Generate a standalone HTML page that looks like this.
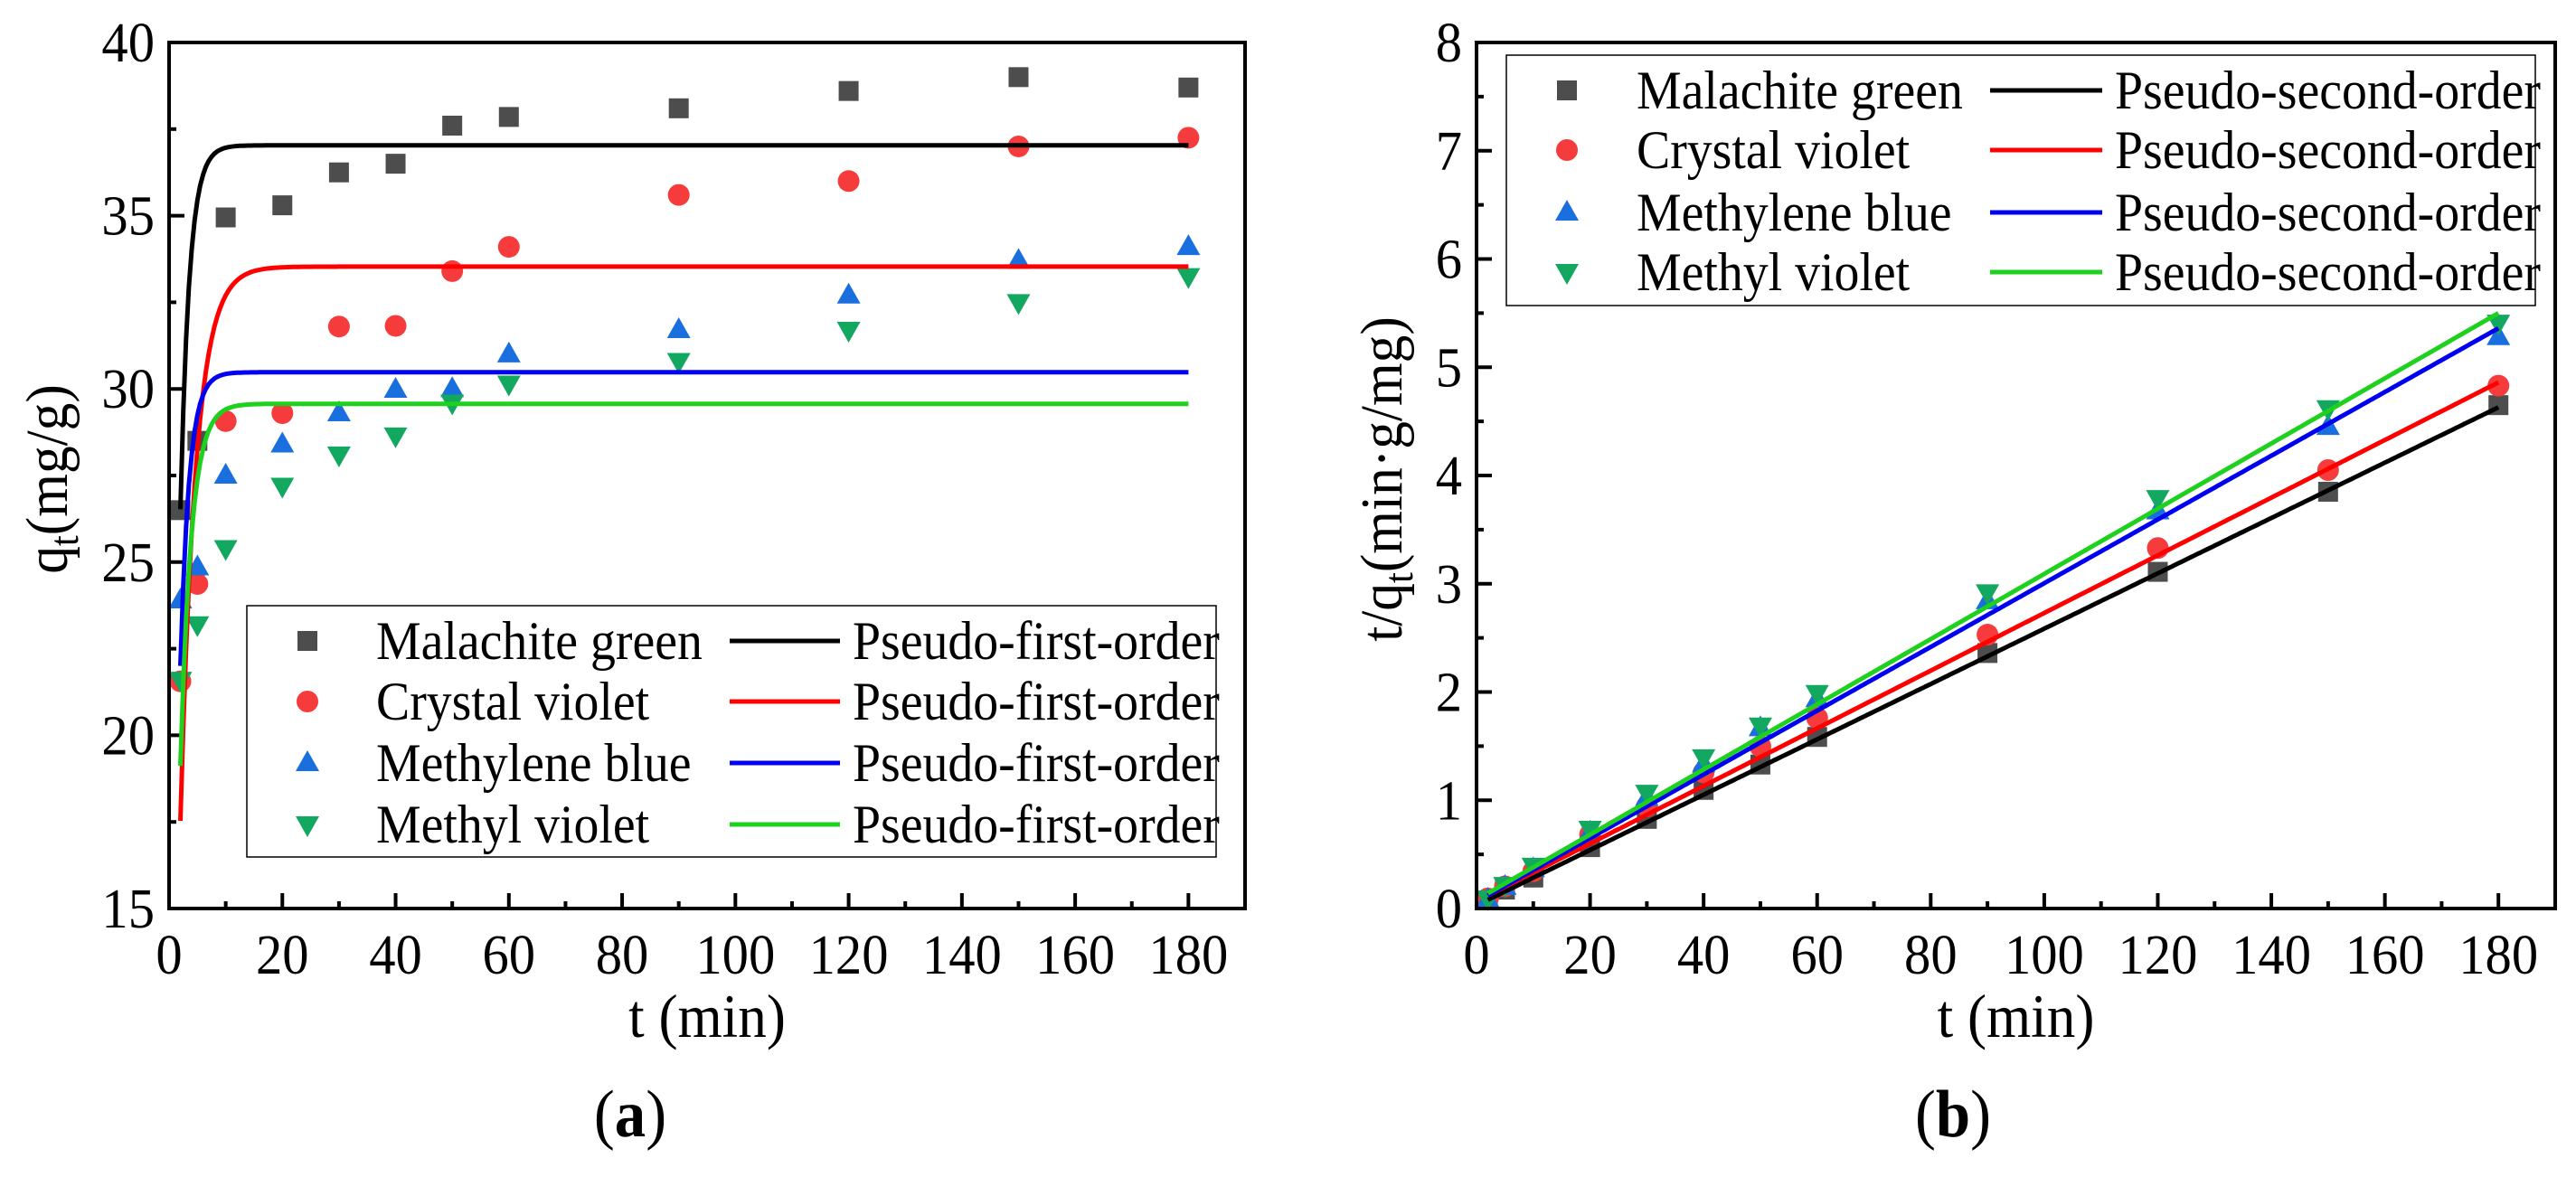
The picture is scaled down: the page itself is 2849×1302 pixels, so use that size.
<!DOCTYPE html>
<html><head><meta charset="utf-8"><style>
html,body{margin:0;padding:0;background:#fff;}
svg{display:block;font-family:"Liberation Serif","Times New Roman",serif;}
</style></head><body>
<svg id="fig" width="2849" height="1302" viewBox="0 0 2849 1302" xmlns="http://www.w3.org/2000/svg"></svg>
<script>
const times = [2,5,10,20,30,40,50,60,90,120,150,180];
const seriesNames = ["Malachite green","Crystal violet","Methylene blue","Methyl violet"];
const qMG = [26.5,28.5,34.95,35.3,36.25,36.5,37.6,37.85,38.1,38.6,39.0,38.7];
const qCV = [21.56,24.37,29.07,29.3,31.8,31.82,33.4,34.1,35.6,36.0,37.0,37.25];
const qMB = [23.9,24.85,27.5,28.4,29.3,29.98,30.0,31.0,31.7,32.7,33.7,34.1];
const qMV = [21.6,23.2,25.4,27.2,28.1,28.65,29.6,30.15,30.8,31.7,32.5,33.25];
const pfoQe = [37.03,33.53,30.48,29.57];
const pfoK = [0.63,0.37,0.64,0.52];
const tqMG = [0.075,0.175,0.286,0.567,0.828,1.096,1.33,1.585,2.36,3.11,3.85,4.65];
const tqCV = [0.093,0.205,0.344,0.683,0.943,1.257,1.497,1.76,2.53,3.33,4.05,4.83];
const tqMB = [0.084,0.201,0.364,0.704,1.024,1.334,1.667,1.935,2.84,3.67,4.45,5.28];
const tqMV = [0.093,0.216,0.394,0.735,1.068,1.396,1.689,1.99,2.92,3.79,4.62,5.41];
const psoSlope = [0.02556,0.02663,0.02944,0.03011];
const psoIntercept = [0.029,0.067,0.061,0.08];
const xTicks = [0,20,40,60,80,100,120,140,160,180];
const yTicksA = [15,20,25,30,35,40];
const yTicksB = [0,1,2,3,4,5,6,7,8];

const NS="http://www.w3.org/2000/svg";
const svg=document.getElementById('fig');
const markerColors=["#4d4d4d","#f53b3b","#1a6fdf","#12a860"];
const lineColors=["#000000","#ff0000","#0000f0","#1ed11e"];
const shapes=["square","circle","up","down"];
const SX=0.93;
function mk(tag,attrs,parent){const e=document.createElementNS(NS,tag);for(const k in attrs)e.setAttribute(k,attrs[k]);(parent||svg).appendChild(e);return e;}
function txt(parent,x,y,size,anchor,rot){
  const tr=`translate(${x},${y})`+(rot?` rotate(${rot})`:'')+` scale(${SX},1)`;
  return mk('text',{x:0,y:0,'font-size':size,'text-anchor':anchor,transform:tr},parent);
}

function marker(g,shape,cx,cy,color){
  let e;
  if(shape==="square"){e=mk('rect',{x:cx-11,y:cy-11,width:22,height:22,fill:color},g);}
  else if(shape==="circle"){e=mk('circle',{cx:cx,cy:cy,r:12,fill:color},g);}
  else if(shape==="up"){e=mk('polygon',{points:`${cx},${cy-14} ${cx+13},${cy+9} ${cx-13},${cy+9}`,fill:color},g);}
  else {e=mk('polygon',{points:`${cx},${cy+14} ${cx+13},${cy-9} ${cx-13},${cy-9}`,fill:color},g);}
  return e;
}

function panel(opt){
  const L=opt.left,R=opt.right,T=47,B=1005;
  const sx=v=>L+(v-0)/(190-0)*(R-L);
  const sy=v=>B-(v-opt.ymin)/(opt.ymax-opt.ymin)*(B-T);
  const g=mk('g',{});
  
  
  for(let v=0;v<=180;v+=10){
    const major=v%20===0;
    mk('line',{x1:sx(v),x2:sx(v),y1:B,y2:B-(major?17:8),stroke:'#000','stroke-width':4},g);
  }
  xTicks.forEach(v=>{
    const t=txt(g,sx(v),B+72,63,'middle');
    t.textContent=v;
    
    
  });
  for(let v=opt.ymin;v<=opt.ymax+1e-9;v+=opt.minor){
    const major=Math.abs(Math.round(v/opt.major)*opt.major-v)<1e-6;
    mk('line',{x1:L,x2:L+(major?17:8),y1:sy(v),y2:sy(v),stroke:'#000','stroke-width':4},g);
  }
  opt.yTicks.forEach(v=>{
    const t=txt(g,L-16,sy(v)+21,63,'end');
    t.textContent=v;
    
    
  });
  opt.data.forEach((arr,i)=>{
    const sg=mk('g',{},g);
    
    
    arr.forEach((v,j)=>{
      const m=marker(sg,shapes[i],sx(times[j]),sy(v),markerColors[i]);
      
      
    });
  });
  for(let i=0;i<4;i++){
    let pts=[];
    for(let t=2;t<=180.001;t+=0.5){pts.push(sx(t).toFixed(1)+','+sy(opt.fit(i,t)).toFixed(1));}
    const p=mk('polyline',{points:pts.join(' '),fill:'none',stroke:lineColors[i],'stroke-width':5},g);
    
    
  }
  const fr=mk('rect',{x:L,y:T,width:R-L,height:B-T,fill:'none',stroke:'#000','stroke-width':4},g);
  
  
  const lg=mk('g',{},g);
  
  
  const Lg=opt.legend;
  mk('rect',{x:Lg.x,y:Lg.y,width:Lg.w,height:Lg.h,fill:'#fff',stroke:'#000','stroke-width':1.5},lg);
  for(let i=0;i<4;i++){
    const y=Lg.rows[i];
    marker(lg,shapes[i],Lg.mx,y,markerColors[i]);
    const t1=txt(lg,Lg.tx,y+20,60,'start');
    t1.textContent=seriesNames[i];
    
    
    mk('line',{x1:Lg.l1,x2:Lg.l2,y1:y,y2:y,stroke:lineColors[i],'stroke-width':5},lg);
    const t2=txt(lg,Lg.t2,y+20,60,'start');
    t2.textContent=opt.model;
    
    
  }
  const xt=txt(g,(L+R)/2,1147,68,'middle');
  xt.textContent='t (min)';
  
  
  const yt=txt(g,opt.ytx,530,66,'middle',-90);
  yt.innerHTML=opt.ytitle;
  
  
  const pl=txt(g,opt.labx,1257,74,'middle');
  pl.innerHTML='(<tspan font-weight="bold">'+opt.lab+'</tspan>)';
  
  
}

panel({name:'panel-a',left:187,right:1377,ymin:15,ymax:40,major:5,minor:2.5,yTicks:yTicksA,
  data:[qMG,qCV,qMB,qMV],fit:(i,t)=>pfoQe[i]*(1-Math.exp(-pfoK[i]*t)),
  legend:{x:273,y:670,w:1072,h:278,rows:[709,776,844,912],mx:340,tx:416,l1:807,l2:929,t2:943},
  model:'Pseudo-first-order',ytx:74,ytitle:'q<tspan font-size="46" dy="12">t</tspan><tspan dy="-12">(mg/g)</tspan>',labx:697,lab:'a'});
panel({name:'panel-b',left:1633,right:2826,ymin:0,ymax:8,major:1,minor:0.5,yTicks:yTicksB,
  data:[tqMG,tqCV,tqMB,tqMV],fit:(i,t)=>psoIntercept[i]+psoSlope[i]*t,
  legend:{x:1666,y:61,w:1138,h:277,rows:[100,166,235,301],mx:1733,tx:1810,l1:2201,l2:2325,t2:2339},
  model:'Pseudo-second-order',ytx:1550,ytitle:'t/q<tspan font-size="46" dy="12">t</tspan><tspan dy="-12">(min·g/mg)</tspan>',labx:2160,lab:'b'});
</script>
</body></html>
